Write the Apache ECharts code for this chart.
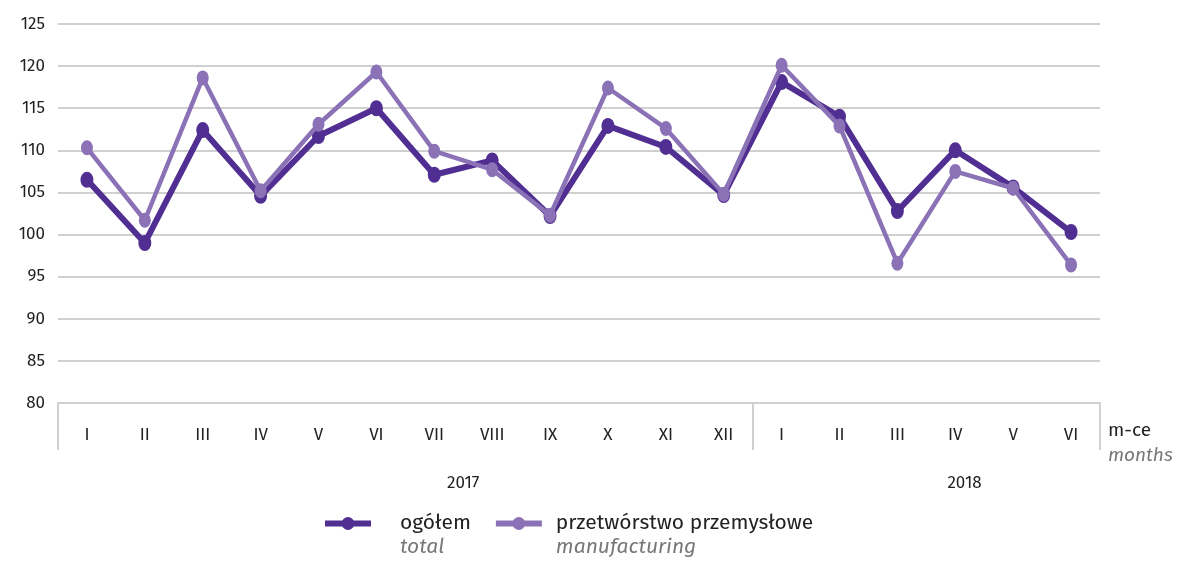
<!DOCTYPE html>
<html>
<head>
<meta charset="utf-8">
<script src="https://cdn.jsdelivr.net/npm/echarts@6/dist/echarts.min.js"></script>
<style>
html,body{margin:0;padding:0;background:#fff;}
#c{width:1181px;height:566px;}
</style>
</head>
<body>
<div id="c"></div>
<script>
const months = ['I','II','III','IV','V','VI','VII','VIII','IX','X','XI','XII','I','II','III','IV','V','VI'];
const years = ['2017', '2018'];
const yearPositions = [7, 15.66];
const yearBoundaries = [0, 12, 18];
const total = [106.5, 99.0, 112.4, 104.6, 111.7, 115.0, 107.1, 108.8, 102.2, 112.9, 110.4, 104.7, 118.1, 114.0, 102.8, 110.0, 105.6, 100.3];
const manufacturing = [110.3, 101.7, 118.6, 105.2, 113.1, 119.3, 109.9, 107.7, 102.3, 117.4, 112.6, 104.8, 120.1, 112.9, 96.6, 107.5, 105.5, 96.4];
const seriesNames = ['ogółem', 'przetwórstwo przemysłowe'];
const seriesNamesEn = ['total', 'manufacturing'];

const FONT = '"Fira Sans", "Noto Sans", sans-serif';
const chart = echarts.init(document.getElementById('c'));
chart.setOption({
  animation: false,
  textStyle: {fontFamily: FONT},
  grid: {left: 58, right: 81, top: 24, bottom: 163, containLabel: false},
  legend: {
    left: 317, top: 508,
    itemWidth: 46, itemHeight: 16, itemGap: 22,
    data: seriesNames,
    lineStyle: {width: 6},
    formatter: function (n) {
      const i = seriesNames.indexOf(n);
      if (i === 0) return '{a1|' + n + '}\n{b1|' + seriesNamesEn[i] + '}';
      return '{a|' + n + '}\n{b|' + seriesNamesEn[i] + '}';
    },
    textStyle: {
      padding: [24, 0, 0, 9],
      rich: {
        a: {fontSize: 21, color: '#222', lineHeight: 24, fontFamily: FONT},
        b: {fontSize: 21, color: '#777', fontStyle: 'italic', lineHeight: 24, fontFamily: FONT},
        a1: {fontSize: 21, color: '#222', lineHeight: 24, fontFamily: FONT, padding: [0, 0, 0, 15]},
        b1: {fontSize: 21, color: '#777', fontStyle: 'italic', lineHeight: 24, fontFamily: FONT, padding: [0, 0, 0, 15]}
      }
    }
  },
  xAxis: [{
    type: 'category',
    data: months,
    boundaryGap: true,
    axisLine: {lineStyle: {color: '#d0d0d0', width: 2}},
    axisTick: {show: false},
    axisLabel: {color: '#222', fontSize: 17, margin: 24, interval: 0}
  }, {
    type: 'value',
    min: 0, max: 18,
    position: 'bottom',
    axisLine: {show: false},
    splitLine: {show: false},
    axisTick: {show: true, customValues: yearBoundaries, length: 47, lineStyle: {color: '#d0d0d0', width: 2}},
    axisLabel: {
      customValues: yearPositions, margin: 72, color: '#222', fontSize: 17,
      formatter: function (v) { return years[yearPositions.indexOf(v)]; }
    }
  }],
  yAxis: {
    type: 'value',
    min: 80, max: 125, interval: 5,
    axisLine: {show: false},
    axisTick: {show: false},
    axisLabel: {color: '#222', fontSize: 17, margin: 13},
    splitLine: {lineStyle: {color: '#d0d0d0', width: 2}}
  },
  graphic: [{
    type: 'text', left: 1108, top: 421,
    style: {text: 'm-ce', fontSize: 19, fill: '#222', fontFamily: FONT}
  }, {
    type: 'text', left: 1108, top: 446,
    style: {text: 'months', fontSize: 19, fill: '#777', fontStyle: 'italic', fontFamily: FONT}
  }],
  series: [{
    name: seriesNames[0],
    type: 'line',
    data: total,
    xAxisIndex: 0,
    symbol: 'circle', symbolSize: [13, 16],
    lineStyle: {color: '#512f92', width: 6},
    itemStyle: {color: '#512f92'},
    z: 2
  }, {
    name: seriesNames[1],
    type: 'line',
    data: manufacturing,
    xAxisIndex: 0,
    symbol: 'circle', symbolSize: [12, 15],
    lineStyle: {color: '#8b72b6', width: 4.5},
    itemStyle: {color: '#8b72b6'},
    z: 3
  }]
});
</script>
</body>
</html>
